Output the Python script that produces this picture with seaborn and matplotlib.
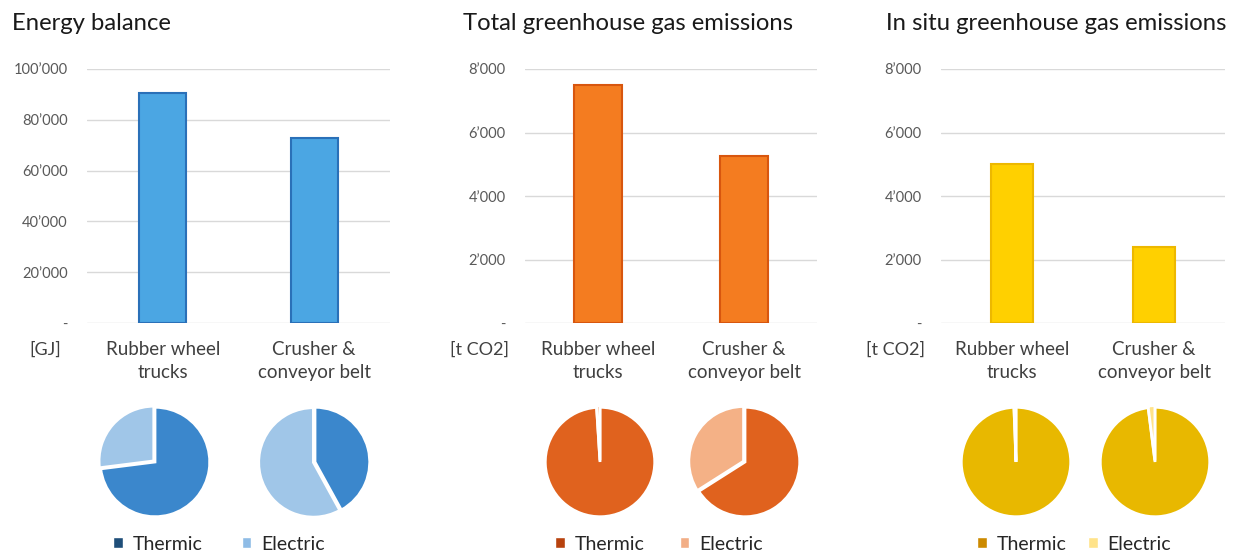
import matplotlib
matplotlib.use("Agg")
import matplotlib.pyplot as plt
from matplotlib.patches import Patch
from matplotlib.ticker import FuncFormatter
import seaborn as sns

# data
categories = ["Rubber wheel\ntrucks", "Crusher &\nconveyor belt"]
energy_gj = [90500, 73000]
total_ghg_t = [7500, 5250]
insitu_ghg_t = [5000, 2400]

energy_thermic = [73, 42]
energy_electric = [27, 58]
total_thermic = [99, 66]
total_electric = [1, 34]
insitu_thermic = [99.4, 98]
insitu_electric = [0.6, 2]

titles = ["Energy balance", "Total greenhouse gas emissions", "In situ greenhouse gas emissions"]
units = ["[GJ]", "[t CO2]", "[t CO2]"]
energy_ticks = [0, 20000, 40000, 60000, 80000, 100000]
ghg_ticks = [0, 2000, 4000, 6000, 8000]

sns.set_theme(style="white")
plt.rcParams['font.family'] = ['Lato', 'DejaVu Sans']

W, H = 1248, 554
fig = plt.figure(figsize=(W / 100, H / 100), dpi=100)


def box(x0, y0, x1, y1):
    """pixel box (top-left origin) -> figure coords"""
    return [x0 / W, 1 - y1 / H, (x1 - x0) / W, (y1 - y0) / H]


def fmt(v, pos):
    if v == 0:
        return "-"
    return f"{int(v):,}".replace(",", "\u2019")


panels = [
    dict(vals=energy_gj, ticks=energy_ticks, ax=(87, 69, 390, 323), bw=0.31,
         bar="#4BA6E3", edge="#2A70B8", title_x=12, unit_x=45,
         thermic=energy_thermic, electric=energy_electric,
         pie_c="#3B87CC", pie_e="#A0C6E8", leg_t="#1F4E79", leg_e="#8FBCE6",
         pies=[155, 315], leg_x=219, colsp=2.0),
    dict(vals=total_ghg_t, ticks=ghg_ticks, ax=(525, 69, 817, 323), bw=0.33,
         bar="#F47C20", edge="#D8560E", title_x=463, unit_x=479,
         thermic=total_thermic, electric=total_electric,
         pie_c="#E0621E", pie_e="#F4B186", leg_t="#B8420E", leg_e="#F2AE86",
         pies=[600, 745], leg_x=659, colsp=1.8),
    dict(vals=insitu_ghg_t, ticks=ghg_ticks, ax=(941, 69, 1225, 323), bw=0.30,
         bar="#FFD000", edge="#EDB800", title_x=886, unit_x=896,
         thermic=insitu_thermic, electric=insitu_electric,
         pie_c="#E8B800", pie_e="#FFE38A", leg_t="#CC8A00", leg_e="#FFE38A",
         pies=[1016, 1155], leg_x=1074, colsp=1.1),
]

for i, p in enumerate(panels):
    ax = fig.add_axes(box(*p["ax"]))
    sns.barplot(x=categories, y=p["vals"], color=p["bar"], width=p["bw"],
                edgecolor=p["edge"], linewidth=1.5, saturation=1, ax=ax, zorder=3)
    ax.set_xlim(-0.5, 1.5)
    ax.set_ylim(p["ticks"][0], p["ticks"][-1])
    ax.set_yticks(p["ticks"])
    ax.yaxis.set_major_formatter(FuncFormatter(fmt))
    ax.grid(axis="y", color="#D9D9D9", linewidth=1, zorder=0)
    ax.grid(axis="x", visible=False)
    sns.despine(ax=ax, left=True, bottom=True)
    ax.tick_params(axis="y", length=0, pad=14, labelsize=10.5, labelcolor="#595959")
    ax.tick_params(axis="x", length=0, pad=13, labelsize=13.5, labelcolor="#404040")
    for lab in ax.get_xticklabels():
        lab.set_linespacing(1.42)
        lab.set_multialignment("center")
    ax.set_xlabel("")
    ax.set_ylabel("")

    fig.text(p["title_x"] / W, 1 - 23 / H, titles[i], fontsize=17.2, color="#1a1a1a",
             ha="left", va="center")
    fig.text(p["unit_x"] / W, 1 - 350 / H, units[i], fontsize=13, color="#404040",
             ha="center", va="center")

    # the two pies under the bars
    for j, cx in enumerate(p["pies"]):
        pax = fig.add_axes(box(cx - 58, 462 - 58, cx + 58, 462 + 58))
        pax.pie([p["thermic"][j], p["electric"][j]], colors=[p["pie_c"], p["pie_e"]],
                startangle=90, counterclock=False, explode=[0, 0.03],
                wedgeprops=dict(edgecolor="white", linewidth=2))
        pax.set_xlim(-1.06, 1.06)
        pax.set_ylim(-1.06, 1.06)
        pax.set_aspect("equal")
        pax.axis("off")

    handles = [Patch(facecolor=p["leg_t"], label="Thermic"),
               Patch(facecolor=p["leg_e"], label="Electric")]
    fig.legend(handles=handles, loc="center", bbox_to_anchor=(p["leg_x"] / W, 1 - 544 / H),
               ncol=2, frameon=False, fontsize=14, handlelength=0.5, handleheight=0.5,
               handletextpad=0.5, columnspacing=p["colsp"], labelcolor="#262626")

fig.savefig("out.png", dpi=100)
